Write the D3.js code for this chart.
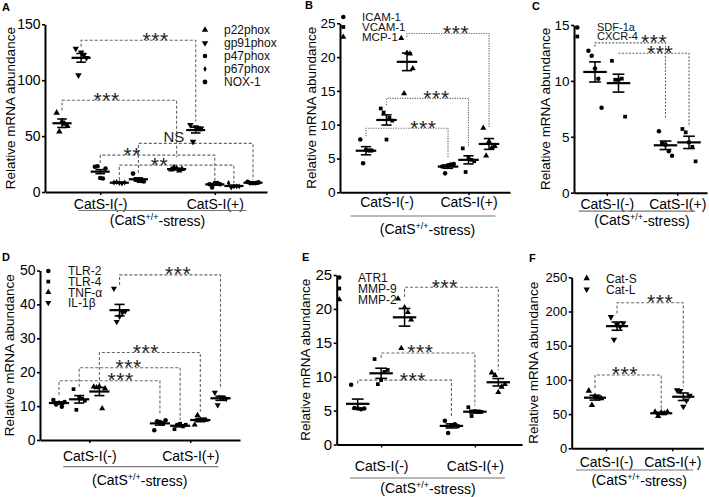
<!DOCTYPE html>
<html><head><meta charset="utf-8">
<script src="https://cdn.jsdelivr.net/npm/d3@7"></script>
<style>
body{margin:0;background:#fff;}
svg{display:block;font-family:Arial,"Liberation Sans",Helvetica,sans-serif;}
</style></head><body>
<svg id="chart" width="709" height="497"></svg>
<script>
// ---------------- DATA ----------------
const groupLabels = ["CatS-I(-)", "CatS-I(+)"];

// Panel A
const A_series = ["p22phox","gp91phox","p47phox","p67phox","NOX-1"];
const A_ticks = [0,50,100,150];
const A_means = [61.5,120,18.2,8.3,11.4,20.5,55.4,6.8,5.4,8.3];
const A_sems  = [3.8,3.9,1.8,0.4,1.2,0.6,2.6,0.7,0.7,0.3];
const A_points = [
  [70.8,53.9,63,61,59],[128.3,104.5,125,122.5,120],[22.5,23,12.5,12,21],[8.5,9,8,7.5,8.5],[16.5,11,10,10,9.5],
  [20,22,21,19,20.5],[60,45,58,57,57],[7,4,8,8,7],[8,4,5,5,5],[9,8,8,8,8.5]];
const A_brackets = [[1,6,135.7,130,63,"***"],[0,5,82,73,31,"***"],[4,9,43.5,17,10.7,"NS"],[2,7,33,26,8,"**"],[3,8,24,10.7,8,"**"]];

// Panel B
const B_series = ["ICAM-1","VCAM-1","MCP-1"];
const B_ticks = [0,5,10,15,20,25];
const B_means = [6.15,10.7,19.3,3.8,4.8,7.15];
const B_sems  = [0.6,0.75,1.3,0.25,0.6,0.8];
const B_points = [[7.8,4.3,6.3,6.2,6.2],[12.4,11.8,7.8,11.0,10.6],[22.8,14.6,20.6,20.5,18.3],
  [3.8,2.8,4.0,4.1,4.2],[6.5,3.0,5.2,4.8,4.6],[9.5,5.4,7.5,6.6,6.8]];
const B_brackets = [[2,5,23.5,23.0,9.7,"***"],[1,4,13.9,12.9,6.65,"***"],[0,3,9.47,8.3,5.0,"***"]];

// Panel C
const C_series = ["SDF-1a","CXCR-4"];
const C_ticks = [0,5,10,15];
const C_means = [10.8,9.8,4.24,4.5];
const C_sems  = [0.9,0.8,0.38,0.55];
const C_points = [[12.7,12.25,11.1,10.2,7.6],[11.8,10.1,10.1,10.2,6.8],[5.5,4.4,4.3,3.7,3.3],[5.7,5.4,4.5,4.1,2.8]];
const C_brackets = [[0,2,13.4,13.06,6.65,"***"],[1,3,12.47,12.47,5.9,"***"]];

// Panel D
const D_series = ["TLR-2","TLR-4","TNF-α","IL-1β"];
const D_ticks = [0,10,20,30,40,50];
const D_means = [10.9,12.0,14.3,38.3,4.9,4.2,5.9,12.3];
const D_sems  = [0.35,1.1,1.2,1.7,0.5,0.3,0.5,0.6];
const D_points = [[11.8,10.5,11.0,9.8,11.2],[15.0,8.9,12.5,12.2,11.6],[15.7,15.5,15.8,9.3,15.2],[44.7,34.9,36.4,37.6,38.0],
  [2.9,5.5,5.3,4.9,5.8],[3.2,4.5,4.8,4.0,4.5],[4.5,7.3,6.0,5.8,5.9],[14.0,10.3,12.6,12.4,12.2]];
const D_brackets = [[3,7,48.7,45.7,15.7,"***"],[2,6,25.8,16.2,7.9,"***"],[1,5,21.3,15.7,5.9,"***"],[0,4,17.5,13.3,7.4,"***"]];

// Panel E
const E_series = ["ATR1","MMP-9","MMP-2"];
const E_ticks = [0,5,10,15,20,25];
const E_means = [6.0,10.5,18.76,2.74,4.84,9.18];
const E_sems  = [0.7,0.75,1.3,0.3,0.2,0.55];
const E_points = [[8.8,5.4,5.3,5.2,5.3],[12.6,8.9,9.5,10.7,11.0],[21.5,14.2,20.2,19.5,18.4],
  [3.5,1.7,2.8,3.0,2.7],[5.5,4.2,4.9,4.8,4.8],[10.6,10.2,7.7,8.5,8.9]];
const E_brackets = [[2,5,23.2,21.8,11.0,"***"],[1,4,13.5,12.8,5.7,"***"],[0,3,9.5,9.0,3.9,"***"]];

// Panel F
const F_series = ["Cat-S","Cat-L"];
const F_ticks = [0,50,100,150,200,250];
const F_means = [74,178.6,51.2,75.4];
const F_sems  = [3.5,6,1.5,5.5];
const F_points = [[84,63,76,74,73],[192,159,181,178,183],[53,47,52,51,53],[85,84,61,70,77]];
const F_brackets = [[1,3,212.9,197,90,"***"],[0,2,107.2,88,57,"***"]];

// ---------------- LAYOUT ----------------
const panels = [
 {id:"A", series:A_series, ticks:A_ticks, means:A_means, sems:A_sems, points:A_points, brackets:A_brackets, yMax:150,
  L:{left:45,right:267,firstX:62,lastX:253,y0:192,yTop:24.3,tickFs:14,yTitleX:10,letter:[2,11],
     legend:{mx:205,tx:224,y:30,dy:13,fs:12}, labDy:12, lineDy:18.5, stressDy:28, lineExt:[22,32],
     labelPos:[0.65,0.39,0.31,0.28,0.35], dash:"3,2",
     symbols:["triangle","triangleDown","circle","diamond","circle"], sizes:[18,18,16,10,18]}},
 {id:"B", series:B_series, ticks:B_ticks, means:B_means, sems:B_sems, points:B_points, brackets:B_brackets, yMax:25,
  L:{left:340,right:510,firstX:366,lastX:489,y0:192.3,yTop:23.3,tickFs:13.5,yTitleX:311.7,letter:[305,9],
     legend:{mx:343.3,tx:362,y:17,dy:10,fs:11.5}, labDy:9.4, lineDy:23.7, stressDy:37, lineExt:[36,27],
     labelPos:[0.6,0.61,0.7], dash:"1.2,1.3",
     symbols:["circle","square","triangle"], sizes:[16,14,16]}},
 {id:"C", series:C_series, ticks:C_ticks, means:C_means, sems:C_sems, points:C_points, brackets:C_brackets, yMax:15,
  L:{left:574,right:707,firstX:595,lastX:689,y0:192.7,yTop:25,tickFs:13.5,yTitleX:545,letter:[532,10],
     legend:{mx:577.3,tx:597,y:27.5,dy:9,fs:11}, labDy:11.3, lineDy:18.5, stressDy:27.3, lineExt:[28,18],
     labelPos:[0.84,0.59], dash:"2,1.5",
     symbols:["circle","square"], sizes:[16,14]}},
 {id:"D", series:D_series, ticks:D_ticks, means:D_means, sems:D_sems, points:D_points, brackets:D_brackets, yMax:50,
  L:{left:40,right:240,firstX:59,lastX:220.5,y0:440,yTop:270.5,tickFs:14,yTitleX:9.3,letter:[2,261],
     legend:{mx:48.3,tx:68,y:271,dy:10.6,fs:12}, labDy:16, lineDy:26.7, stressDy:40, lineExt:[26,28],
     labelPos:[0.58,0.46,0.49,0.61], dash:"3,2",
     symbols:["circle","square","triangle","triangleDown"], sizes:[16,14,16,16]}},
 {id:"E", series:E_series, ticks:E_ticks, means:E_means, sems:E_sems, points:E_points, brackets:E_brackets, yMax:25,
  L:{left:336.7,right:522,firstX:357.7,lastX:498.3,y0:444.5,yTop:275,tickFs:15,yTitleX:305,letter:[302,261],
     legend:{mx:339.3,tx:358,y:277.5,dy:11,fs:12}, labDy:21, lineDy:33.5, stressDy:43.5, lineExt:[31,30],
     labelPos:[0.43,0.42,0.59], dash:"3,2",
     symbols:["circle","square","triangle"], sizes:[16,14,16]}},
 {id:"F", series:F_series, ticks:F_ticks, means:F_means, sems:F_sems, points:F_points, brackets:F_brackets, yMax:250,
  L:{left:571.7,right:703.3,firstX:595,lastX:683.3,y0:448.3,yTop:277.3,tickFs:13,yTitleX:533.3,letter:[529,262],
     legend:{mx:586.7,tx:606,y:278.3,dy:11,fs:12}, labDy:13.4, lineDy:21.7, stressDy:31.7, lineExt:[30,21],
     labelPos:[0.65,0.45], dash:"3,2",
     symbols:["triangle","triangleDown"], sizes:[18,18]}}
];

const FONT = 'Arial, "Liberation Sans", Helvetica, sans-serif';
const svg = d3.select("#chart");
const symTypes = {circle:d3.symbolCircle, square:d3.symbolSquare, triangle:d3.symbolTriangle,
                  triangleDown:d3.symbolTriangle, diamond:d3.symbolDiamond};
const symPath = (name, size) => d3.symbol().type(symTypes[name]).size(size)();
const symRot = name => name === "triangleDown" ? " rotate(180)" : "";

function drawPanel(p) {
  const L = p.L, n = p.series.length;
  const g = svg.append("g").attr("class","panel-"+p.id);
  const x = d3.scaleLinear().domain([0, 2*n]).range([L.firstX, L.lastX]);
  const step = x(1) - x(0);
  const slot = k => k < n ? k : k + 1;
  const y = d3.scaleLinear().domain([0, p.yMax]).range([L.y0, L.yTop]);

  // panel letter
  g.append("text").attr("x", L.letter[0]).attr("y", L.letter[1]).text(p.id)
    .attr("font-size", 11).attr("font-weight","bold").attr("fill","#000");

  // y axis
  const ya = g.append("g").attr("transform", `translate(${L.left},0)`)
    .call(d3.axisLeft(y).tickValues(p.ticks).tickSize(3).tickSizeOuter(0).tickPadding(1.5));
  ya.attr("font-family", FONT).attr("font-size", L.tickFs);
  ya.select(".domain").attr("stroke","#000").attr("stroke-width",2);
  ya.selectAll(".tick line").attr("stroke","#000").attr("stroke-width",1.6);
  ya.selectAll(".tick text").attr("fill","#000");

  // y title
  g.append("text").attr("transform", `translate(${L.yTitleX},${(L.y0+L.yTop)/2}) rotate(-90)`)
    .attr("text-anchor","middle").attr("dominant-baseline","central")
    .attr("font-size",13.5).attr("fill","#000").text("Relative mRNA abundance");

  // x axis
  const mids = [(n-1)/2, n + 1 + (n-1)/2];
  const xa = x.copy().domain([x.invert(L.left), x.invert(L.right)]).range([L.left, L.right]);
  const xg = g.append("g").attr("transform", `translate(0,${L.y0})`)
    .call(d3.axisBottom(xa).tickValues(mids).tickFormat((d,i) => groupLabels[i]).tickSize(3).tickSizeOuter(0));
  xg.attr("font-family", FONT).attr("font-size", 14);
  xg.select(".domain").attr("stroke","#000").attr("stroke-width",2);
  xg.selectAll(".tick line").attr("stroke","#000").attr("stroke-width",1.5);
  xg.selectAll(".tick text").attr("fill","#000").attr("y", L.labDy).attr("dy","0.36em");

  // underline + stress label
  const xl = x(mids[0]), xr = x(mids[1]);
  g.append("line").attr("x1", xl - L.lineExt[0]).attr("x2", xr + L.lineExt[1])
    .attr("y1", L.y0 + L.lineDy).attr("y2", L.y0 + L.lineDy).attr("stroke","#777").attr("stroke-width",1.2);
  const st = g.append("text").attr("x", (xl+xr)/2).attr("y", L.y0 + L.stressDy).attr("dy","0.36em")
    .attr("text-anchor","middle").attr("font-size",14).attr("fill","#000");
  st.append("tspan").text("(CatS");
  st.append("tspan").text("+/+").attr("font-size",9).attr("dy","-0.55em");
  st.append("tspan").text("-stress)").attr("dy","0.4em");

  // brackets
  const br = g.append("g").attr("class","brackets");
  p.brackets.forEach((b, i) => {
    const [from, to, level, le, re, lab] = b;
    const x1 = x(slot(from)), x2 = x(slot(to));
    br.append("path")
      .attr("d", `M${x1},${y(le)}V${y(level)}H${x2}V${y(re)}`)
      .attr("fill","none").attr("stroke","#666").attr("stroke-width",1.1).attr("stroke-dasharray", L.dash);
    const lx = x1 + L.labelPos[i]*(x2 - x1);
    if (lab === "NS") {
      br.append("text").attr("x", lx).attr("y", y(level) - 1.5).attr("text-anchor","middle")
        .attr("font-size",15).attr("fill","#222").text(lab);
    } else {
      br.append("text").attr("x", lx).attr("y", y(level) + 6.5).attr("text-anchor","middle")
        .attr("font-size",21).attr("letter-spacing", 0.6).attr("fill","#222").text(lab);
    }
  });

  // data points
  const groups = p.points.map((vals, k) => ({k, vals, cx: x(slot(k)), s: k % n}));
  const pts = groups.flatMap(gr => gr.vals.map((v, j) => ({
    v, s: gr.s, cx: gr.cx + (j - (gr.vals.length-1)/2) * step * 0.14 })));
  g.append("g").selectAll("path").data(pts).join("path")
    .attr("d", d => symPath(L.symbols[d.s], L.sizes[d.s]))
    .attr("transform", d => `translate(${d.cx},${y(d.v)})${symRot(L.symbols[d.s])}`)
    .attr("fill","#000");

  // mean + SEM
  const ms = g.append("g").attr("stroke","#000");
  p.means.forEach((m, k) => {
    const cx = x(slot(k)), se = p.sems[k];
    ms.append("line").attr("x1", cx - step*0.5).attr("x2", cx + step*0.5)
      .attr("y1", y(m)).attr("y2", y(m)).attr("stroke-width", 2.2);
    ms.append("line").attr("x1", cx).attr("x2", cx).attr("y1", y(m - se)).attr("y2", y(m + se)).attr("stroke-width", 1.5);
    [m - se, m + se].forEach(e => ms.append("line").attr("x1", cx - step*0.25).attr("x2", cx + step*0.25)
      .attr("y1", y(e)).attr("y2", y(e)).attr("stroke-width", 1.6));
  });

  // legend
  const lg = g.append("g");
  p.series.forEach((s, i) => {
    const yy = L.legend.y + i * L.legend.dy;
    lg.append("path").attr("d", symPath(L.symbols[i], L.sizes[i]))
      .attr("transform", `translate(${L.legend.mx},${yy})${symRot(L.symbols[i])}`).attr("fill","#000");
    lg.append("text").attr("x", L.legend.tx).attr("y", yy).attr("dy","0.36em")
      .attr("font-size", L.legend.fs).attr("fill","#111").text(s);
  });
}

panels.forEach(drawPanel);
</script>
</body></html>
